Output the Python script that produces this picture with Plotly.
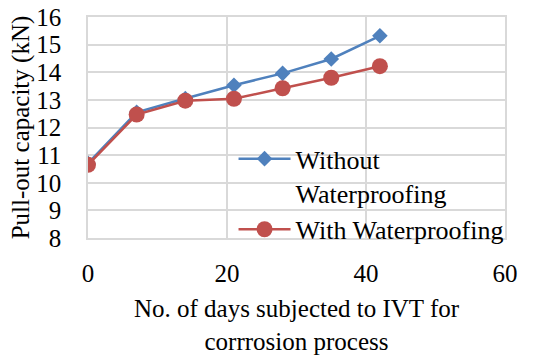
import plotly.graph_objects as go

days = [0, 7, 14, 21, 28, 35, 42]
without_wp = [10.7, 12.55, 13.05, 13.53, 13.96, 14.48, 15.32]
with_wp = [10.65, 12.47, 12.97, 13.04, 13.42, 13.80, 14.22]

FONT = "'Liberation Serif', 'Times New Roman', Times, serif"
GRID = "#d9d9d9"
FS = 25

fig = go.Figure()
fig.add_trace(go.Scatter(
    x=days, y=without_wp, mode="lines+markers",
    name="Without<br>Waterproofing",
    line=dict(color="#4F81BD", width=2.5),
    marker=dict(symbol="diamond", size=12, color="#4F81BD"),
))
fig.add_trace(go.Scatter(
    x=days, y=with_wp, mode="lines+markers",
    name="With Waterproofing",
    line=dict(color="#C0504D", width=2.5),
    marker=dict(symbol="circle", size=16, color="#C0504D"),
))

fig.update_layout(
    width=541, height=356,
    margin=dict(l=88, r=36, t=17, b=118),
    paper_bgcolor="white", plot_bgcolor="white",
    font=dict(family=FONT, size=FS, color="black"),
    showlegend=True,
    legend=dict(x=0.349, y=0.465, xanchor="left", yanchor="top",
                bgcolor="rgba(255,255,255,0)", font=dict(family=FONT, size=26),
                tracegroupgap=0, itemwidth=52, valign="top"),
    xaxis=dict(range=[0, 60], dtick=20, showgrid=True, gridcolor=GRID,
               gridwidth=1.5, showline=True, linecolor=GRID, linewidth=1.5, mirror=True,
               zeroline=False, ticklabelstandoff=12, automargin=False,
               tickfont=dict(family=FONT, size=FS),
               title=dict(text="No. of days subjected to IVT for<br>corrrosion process",
                          font=dict(family=FONT, size=FS), standoff=14)),
    yaxis=dict(range=[8, 16], dtick=1, showgrid=True, gridcolor=GRID,
               gridwidth=1.5, showline=True, linecolor=GRID, linewidth=1.5, mirror=True,
               zeroline=False, ticklabelstandoff=20, automargin=False,
               tickfont=dict(family=FONT, size=FS),
               title=dict(text="Pull-out capacity (kN)", font=dict(family=FONT, size=FS), standoff=0)),
)

fig.write_html("out.html")
